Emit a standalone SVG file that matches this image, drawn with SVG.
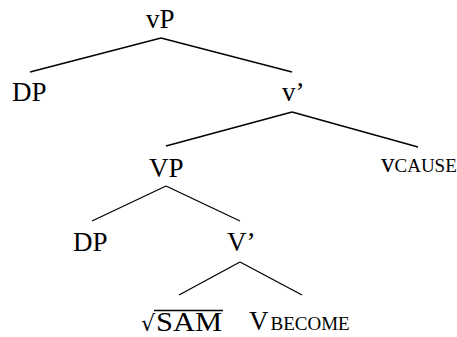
<svg xmlns="http://www.w3.org/2000/svg" width="457" height="337" viewBox="0 0 457 337">
<style>
text{font-family:"Liberation Serif","Times New Roman",serif;font-size:27px;fill:#000}
.sc{font-size:19px}
.e{stroke:#000;stroke-width:1.3;fill:none}
</style>
<rect width="457" height="337" fill="#fff"/>
<g id="connectors">
<line class="e" x1="161" y1="38" x2="30" y2="72"/>
<line class="e" x1="161" y1="38" x2="292" y2="72"/>
<line class="e" x1="292" y1="112" x2="166" y2="146"/>
<line class="e" x1="292" y1="112" x2="418" y2="147"/>
<line class="e" x1="166" y1="186" x2="92" y2="221"/>
<line class="e" x1="166" y1="186" x2="240" y2="221"/>
<line class="e" x1="240" y1="262" x2="179" y2="295"/>
<line class="e" x1="240" y1="262" x2="302" y2="295"/>
</g>
<g id="vP"><text x="146" y="28">vP</text></g>
<g id="DP1"><text x="12" y="101">DP</text></g>
<g id="vbar"><text x="282" y="101">v’</text></g>
<g id="VP"><text x="149" y="177">VP</text></g>
<g id="vCAUSE"><text x="381" y="172">v<tspan class="sc">CAUSE</tspan></text></g>
<g id="DP2"><text x="73" y="251">DP</text></g>
<g id="Vbar"><text x="227" y="251">V’</text></g>
<g id="SAM"><text x="141" y="331" style="font-family:'DejaVu Serif',serif;font-size:22px">√</text><text x="156" y="331" textLength="66" lengthAdjust="spacingAndGlyphs">SAM</text><line class="e" x1="154" y1="310.5" x2="223" y2="310.5"/></g>
<g id="VBECOME"><text x="249" y="330">V<tspan class="sc" dx="2">BECOME</tspan></text></g>
</svg>
